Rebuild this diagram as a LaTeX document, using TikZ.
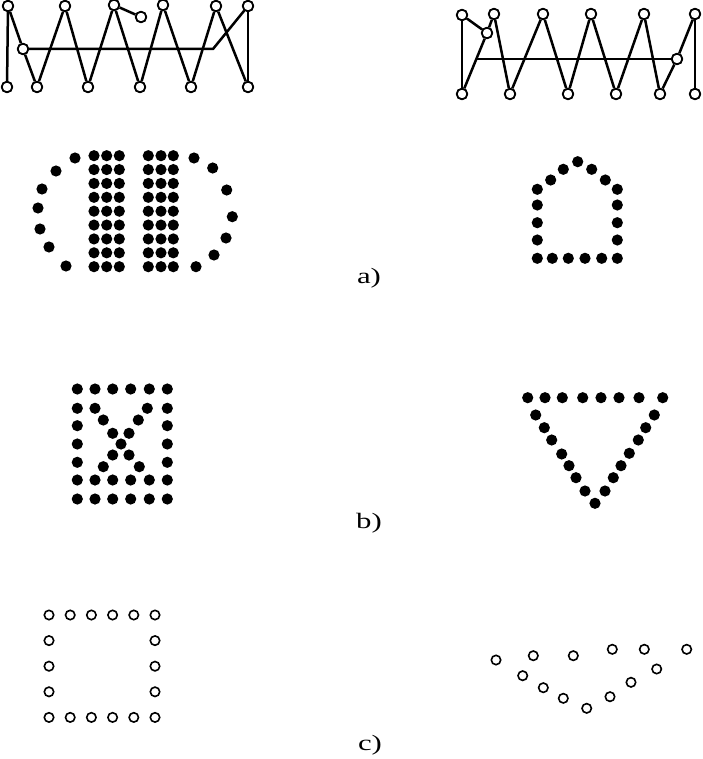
\documentclass[tikz,border=0pt]{standalone}
\usepackage{graphicx}
\usepackage{fontspec}
\setmainfont{Liberation Serif}
\begin{document}
\begin{tikzpicture}[x=1pt,y=-1pt,
  oc/.style={circle,draw,line width=1.7pt,fill=white,minimum size=10.5pt,inner sep=0pt},
  link/.style={line width=2.5pt,line join=round},
  lbl/.style={font=\fontsize{22}{26}\selectfont,anchor=base,inner sep=0pt}]
\useasboundingbox (0,0) rectangle (702,759);
% ---------- top-left zigzag ----------
\coordinate (K) at (213,49);
\node[oc] (T0) at (8,6) {};
\node[oc] (T1) at (65,6) {};
\node[oc] (T2) at (114,5) {};
\node[oc] (T3) at (163,5) {};
\node[oc] (T4) at (216,6) {};
\node[oc] (T5) at (248,6) {};
\node[oc] (S) at (141,17) {};
\node[oc] (M) at (23,49) {};
\node[oc] (B0) at (7,87) {};
\node[oc] (B1) at (37,87) {};
\node[oc] (B2) at (88,87) {};
\node[oc] (B3) at (140,87) {};
\node[oc] (B4) at (191,87) {};
\node[oc] (B5) at (248,87) {};
\draw[link] (T0) -- (B0);
\draw[link] (T0) -- (M);
\draw[link] (M) -- (B1);
\draw[link] (B1) -- (T1) -- (B2) -- (T2) -- (B3) -- (T3) -- (B4) -- (T4) -- (B5);
\draw[link] (T5) -- (B5);
\draw[link] (T2) -- (S);
\draw[link] (M) -- (K) -- (T5);
\foreach \n in {T0,T1,T2,T3,T4,T5,S,M,B0,B1,B2,B3,B4,B5} \node[oc] at (\n) {};
% ---------- top-right zigzag ----------
\coordinate (H) at (476.3,59);
\node[oc] (P0) at (462,15) {};
\node[oc] (P1) at (494,14) {};
\node[oc] (P2) at (543,14) {};
\node[oc] (P3) at (591,14) {};
\node[oc] (P4) at (644,14) {};
\node[oc] (P5) at (695,14) {};
\node[oc] (Q) at (487,33) {};
\node[oc] (R) at (677,59) {};
\node[oc] (D0) at (462,94) {};
\node[oc] (D1) at (510,94) {};
\node[oc] (D2) at (568,94) {};
\node[oc] (D3) at (616,94) {};
\node[oc] (D4) at (660,94) {};
\node[oc] (D5) at (695,94) {};
\draw[link] (P0) -- (D0);
\draw[link] (P0) -- (Q);
\draw[link] (D0) -- (Q);
\draw[link] (Q) -- (P1);
\draw[link] (P1) -- (D1) -- (P2) -- (D2) -- (P3) -- (D3) -- (P4) -- (D4) -- (R);
\draw[link] (R) -- (P5);
\draw[link] (P5) -- (D5);
\draw[link] (H) -- (R);
\foreach \n in {P0,P1,P2,P3,P4,P5,Q,R,D0,D1,D2,D3,D4,D5} \node[oc] at (\n) {};
% ---------- a) left: columns with arcs ----------
\foreach \p in {(75,158),(56,171),(42,189),(38,208),(40,229),(49,247),(66,266),
                (194,158),(212.7,168),(226.7,190),(232.3,216.7),(226,238),(214,255),(196,266.7)}
  \fill \p circle (5.6pt);
\foreach \x in {94,106.7,119.3,148.3,161,173.3}
  \foreach \j in {0,...,8}
    \fill (\x,155.7+13.875*\j) circle (5.6pt);
% ---------- a) right: pentagon ----------
\foreach \p in {(577.7,161.7),(563.3,169.3),(550.7,180),(591.7,169.3),(605.3,180),
                (537.3,189.3),(537.3,205),(537.3,222.7),(537.3,240),
                (617.3,189.3),(617.3,205),(617.3,222.7),(617.3,240),
                (537.3,258.3),(552.3,258.3),(568.3,258.3),(585,258.3),(601.7,258.3),(617.3,258.3)}
  \fill \p circle (5.6pt);
% ---------- b) left: square with X ----------
\foreach \x in {77.3,95,112.7,130.7,149.3,167.3}
  \foreach \y in {389,480,499}
    \fill (\x,\y) circle (5.6pt);
\foreach \y in {408.3,425.7,444,462.3}
  {\fill (77.3,\y) circle (5.6pt); \fill (167.3,\y) circle (5.6pt);}
\foreach \p in {(95,408.3),(147.3,408.3),(103.3,420),(138.3,420),(112.7,433.3),(129,433.3),
                (121,444),(112.7,455),(129,455),(103.3,466.7),(139.3,466.7)}
  \fill \p circle (5.6pt);
% ---------- b) right: triangle ----------
\foreach \x in {527.7,545,562.3,582.7,601,619,639,662.7}
  \fill (\x,397.7) circle (5.6pt);
\foreach \p in {(535.7,415),(544.3,427.7),(551.7,440),(561.7,454),(569,465.7),(576,477.7),(585,491),(595,503.3),
                (654.3,415),(645.7,427.7),(638.3,440),(629.3,453.3),(621,465.7),(613.3,477.7),(605,491)}
  \fill \p circle (5.6pt);
% ---------- c) left: square of circles ----------
\foreach \i in {0,...,5}
  {\draw[line width=1.6pt] (49+21.2*\i,615) circle (4.7pt);
   \draw[line width=1.6pt] (49+21.2*\i,717.4) circle (4.7pt);}
\foreach \j in {1,2,3}
  {\draw[line width=1.6pt] (49,615+25.6*\j) circle (4.7pt);
   \draw[line width=1.6pt] (155,615+25.6*\j) circle (4.7pt);}
% ---------- c) right: curve of circles ----------
\foreach \p in {(496,660),(533.3,655.7),(573.3,655.7),(612.3,649.3),(644.3,649.3),(686.7,649.3),
                (522.7,675.7),(543.3,687.7),(563.3,698.3),(586.7,708.3),(610,696.7),(631,682.3),(656.7,669)}
  \draw[line width=1.6pt] \p circle (4.7pt);
% ---------- labels ----------
\node[lbl] (la) at (369,283) {\scalebox{1.4}[1]{a)}};
\node[lbl] (lb) at (369,528) {\scalebox{1.4}[1]{b)}};
\node[lbl] (lc) at (370,750) {\scalebox{1.4}[1]{c)}};
\end{tikzpicture}
\end{document}
